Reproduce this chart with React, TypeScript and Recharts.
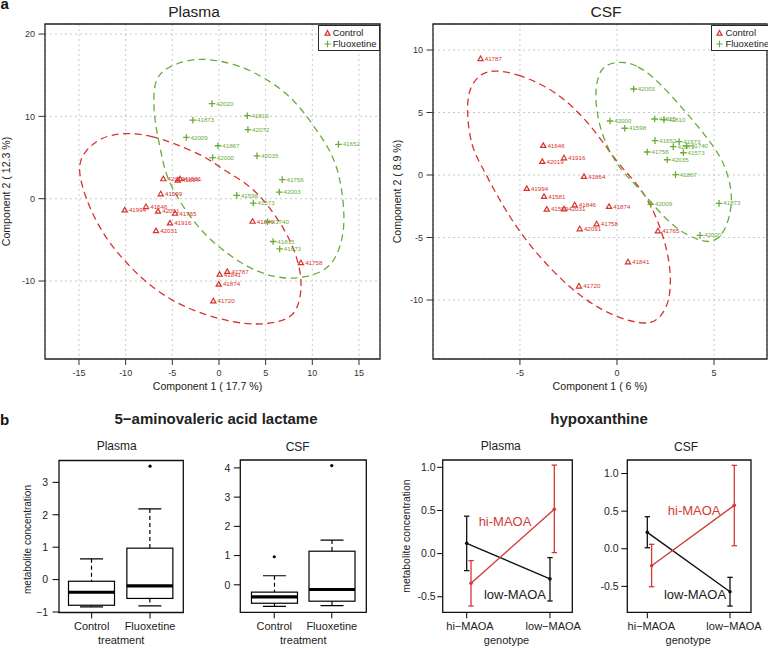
import React from 'react';
import {
  ScatterChart, Scatter, XAxis, YAxis, CartesianGrid, ReferenceArea, Legend,
  ComposedChart, Bar, LineChart, Line, ErrorBar, ReferenceDot, Label,
} from 'recharts';

const FONT = '"Liberation Sans", Arial, Helvetica, sans-serif';
const RED = '#d6322e';
const GREEN = '#68ad3a';
const LINE_RED = '#d23a36';
const INK = '#222';

type Pt = { id: string; x: number; y: number };
type XY = { x: number; y: number };

// ---------------- panel a : score plots ----------------
const groups = ['Control', 'Fluoxetine'];

const plasmaControl: Pt[] = [
  { id: '42019', x: -5.96, y: 2.4 }, { id: '41864', x: -4.42, y: 2.23 }, { id: '41581', x: -4.18, y: 2.4 },
  { id: '41599', x: -6.24, y: 0.57 }, { id: '41994', x: -10.1, y: -1.38 }, { id: '41646', x: -7.82, y: -0.98 },
  { id: '42091', x: -6.53, y: -1.54 }, { id: '41765', x: -4.71, y: -1.79 }, { id: '41916', x: -5.25, y: -2.97 },
  { id: '42031', x: -6.75, y: -3.9 }, { id: '41846', x: 3.6, y: -2.76 }, { id: '41758', x: 8.78, y: -7.8 },
  { id: '41787', x: 0.89, y: -8.86 }, { id: '41841', x: 0.07, y: -9.2 }, { id: '41874', x: -0.03, y: -10.4 },
  { id: '41720', x: -0.61, y: -12.44 },
];
const plasmaFluox: Pt[] = [
  { id: '42020', x: -0.75, y: 11.55 }, { id: '41873', x: -2.8, y: 9.55 }, { id: '41810', x: 3.03, y: 10.08 },
  { id: '42072', x: 3.1, y: 8.4 }, { id: '42009', x: -3.5, y: 7.44 }, { id: '41867', x: -0.1, y: 6.43 },
  { id: '42000', x: -0.68, y: 5.0 }, { id: '42035', x: 4.07, y: 5.2 }, { id: '41652', x: 12.8, y: 6.6 },
  { id: '41756', x: 6.78, y: 2.32 }, { id: '42003', x: 6.46, y: 0.81 }, { id: '41598', x: 1.9, y: 0.4 },
  { id: '41573', x: 3.67, y: -0.53 }, { id: '41740', x: 5.2, y: -2.8 }, { id: '41815', x: 5.8, y: -5.2 },
  { id: '41673', x: 6.5, y: -6.1 },
];
const plasmaControlEllipse: XY[] = [
  { x: -10.07, y: 8.07 }, { x: -7.07, y: 7.62 }, { x: -4.93, y: 6.77 }, { x: -1.29, y: 5.06 }, { x: 0.43, y: 3.49 },
  { x: 3.0, y: 1.91 }, { x: 5.14, y: -0.52 }, { x: 7.29, y: -4.17 }, { x: 8.36, y: -7.04 }, { x: 8.89, y: -9.87 },
  { x: 8.7, y: -12.4 }, { x: 7.96, y: -14.33 }, { x: 6.18, y: -15.06 }, { x: 4.2, y: -15.3 }, { x: 1.53, y: -15.06 },
  { x: -2.04, y: -13.92 }, { x: -4.9, y: -12.51 }, { x: -7.75, y: -10.28 }, { x: -9.89, y: -7.85 }, { x: -12.03, y: -5.02 },
  { x: -13.82, y: -1.37 }, { x: -14.89, y: 2.27 }, { x: -15.0, y: 4.09 }, { x: -14.57, y: 5.55 }, { x: -12.75, y: 7.49 },
];
const plasmaFluoxEllipse: XY[] = [
  { x: -1.29, y: 16.97 }, { x: 1.5, y: 16.48 }, { x: 4.39, y: 15.03 }, { x: 6.86, y: 13.2 }, { x: 8.68, y: 11.14 },
  { x: 10.47, y: 8.34 }, { x: 11.89, y: 5.91 }, { x: 12.61, y: 3.89 }, { x: 13.15, y: 1.46 }, { x: 13.5, y: -2.59 },
  { x: 13.15, y: -5.42 }, { x: 12.25, y: -7.85 }, { x: 10.82, y: -9.06 }, { x: 8.68, y: -9.67 }, { x: 6.89, y: -9.67 },
  { x: 5.11, y: -9.27 }, { x: 2.97, y: -8.26 }, { x: 0.83, y: -6.63 }, { x: -1.32, y: -4.62 }, { x: -3.11, y: -2.19 },
  { x: -4.53, y: 0.24 }, { x: -5.79, y: 3.09 }, { x: -6.32, y: 6.32 }, { x: -6.86, y: 9.16 }, { x: -7.04, y: 11.99 },
  { x: -6.86, y: 14.42 }, { x: -5.97, y: 15.63 }, { x: -4.53, y: 16.45 }, { x: -2.75, y: 16.93 },
];

const csfControl: Pt[] = [
  { id: '41787', x: -7.03, y: 9.3 }, { id: '41646', x: -3.8, y: 2.35 }, { id: '42019', x: -3.85, y: 1.07 },
  { id: '41916', x: -2.73, y: 1.36 }, { id: '41864', x: -1.7, y: -0.13 }, { id: '41994', x: -4.65, y: -1.09 },
  { id: '41581', x: -3.76, y: -1.73 }, { id: '41599', x: -3.62, y: -2.75 }, { id: '42031', x: -2.73, y: -2.72 },
  { id: '41846', x: -2.18, y: -2.4 }, { id: '41874', x: -0.41, y: -2.53 }, { id: '41758', x: -1.05, y: -3.92 },
  { id: '42091', x: -1.92, y: -4.32 }, { id: '41765', x: 2.11, y: -4.48 }, { id: '41841', x: 0.57, y: -6.96 },
  { id: '41720', x: -1.96, y: -8.9 },
];
const csfFluox: Pt[] = [
  { id: '42003', x: 0.86, y: 6.88 }, { id: '42000', x: -0.36, y: 4.32 }, { id: '41598', x: 0.4, y: 3.74 },
  { id: '41815', x: 1.94, y: 4.48 }, { id: '41810', x: 2.42, y: 4.43 }, { id: '41652', x: 1.96, y: 2.75 },
  { id: '41673', x: 3.2, y: 2.67 }, { id: '42072', x: 2.9, y: 2.27 }, { id: '41740', x: 3.59, y: 2.32 },
  { id: '41756', x: 1.56, y: 1.84 }, { id: '41573', x: 3.42, y: 1.78 }, { id: '42035', x: 2.59, y: 1.22 },
  { id: '41867', x: 3.02, y: 0.03 }, { id: '42009', x: 1.74, y: -2.35 }, { id: '41873', x: 5.26, y: -2.27 },
  { id: '42020', x: 4.28, y: -4.83 },
];
const csfControlEllipse: XY[] = [
  { x: -6.25, y: 8.4 }, { x: -5.14, y: 8.08 }, { x: -3.76, y: 7.2 }, { x: -2.39, y: 5.74 }, { x: -1.02, y: 3.34 },
  { x: 0.02, y: 0.94 }, { x: 0.88, y: -0.4 }, { x: 1.74, y: -2.26 }, { x: 2.42, y: -4.94 }, { x: 2.8, y: -7.6 },
  { x: 2.73, y: -10.26 }, { x: 2.08, y: -11.74 }, { x: 1.39, y: -11.94 }, { x: 0.02, y: -11.46 }, { x: -1.7, y: -10.0 },
  { x: -3.42, y: -7.6 }, { x: -5.14, y: -4.4 }, { x: -6.34, y: -1.2 }, { x: -6.86, y: 0.4 }, { x: -7.54, y: 2.26 },
  { x: -7.75, y: 5.2 }, { x: -7.63, y: 6.94 }, { x: -7.03, y: 8.18 },
];
const csfFluoxEllipse: XY[] = [
  { x: 0.19, y: 9.12 }, { x: 1.05, y: 8.8 }, { x: 2.08, y: 7.6 }, { x: 3.45, y: 5.2 }, { x: 4.48, y: 3.34 },
  { x: 5.35, y: 1.46 }, { x: 5.69, y: 0.14 }, { x: 5.94, y: -1.46 }, { x: 5.86, y: -3.06 }, { x: 5.52, y: -4.66 },
  { x: 4.91, y: -5.46 }, { x: 4.14, y: -5.2 }, { x: 3.11, y: -4.4 }, { x: 2.08, y: -2.8 }, { x: 1.22, y: -1.2 },
  { x: 0.36, y: 0.14 }, { x: -0.15, y: 1.2 }, { x: -0.84, y: 3.34 }, { x: -1.15, y: 6.0 }, { x: -1.02, y: 7.86 },
  { x: -0.67, y: 8.8 },
];

const plasmaXTicks = [-15, -10, -5, 0, 5, 10, 15];
const plasmaYTicks = [-10, 0, 10, 20];
const csfXTicks = [-5, 0, 5];
const csfYTicks = [-10, -5, 0, 5, 10];

// ---------------- panel b : 5-aminovaleric acid lactame ----------------
const treatments = ['Control', 'Fluoxetine'];
type BoxStat = { wLow: number; q1: number; med: number; q3: number; wHigh: number; outlier: number | null };
const plasmaBox: BoxStat[] = [
  { wLow: -0.84, q1: -0.79, med: -0.39, q3: -0.05, wHigh: 0.64, outlier: null },
  { wLow: -0.81, q1: -0.58, med: -0.19, q3: 0.97, wHigh: 2.18, outlier: 3.5 },
];
const csfBox: BoxStat[] = [
  { wLow: -0.74, q1: -0.63, med: -0.41, q3: -0.25, wHigh: 0.31, outlier: 0.96 },
  { wLow: -0.71, q1: -0.56, med: -0.16, q3: 1.15, wHigh: 1.53, outlier: 4.08 },
];
const plasmaBoxTicks = [-1, 0, 1, 2, 3];
const csfBoxTicks = [0, 1, 2, 3, 4];

// ---------------- panel b : hypoxanthine ----------------
const genotypes = ['hi\u2212MAOA', 'low\u2212MAOA'];
const plasmaLowMean = [0.12, -0.293];
const plasmaLowLo = [-0.197, -0.549];
const plasmaLowHi = [0.434, -0.046];
const plasmaHiMean = [-0.343, 0.515];
const plasmaHiLo = [-0.607, 0.012];
const plasmaHiHi = [-0.081, 1.026];
const csfLowMean = [0.218, -0.572];
const csfLowLo = [0.013, -0.762];
const csfLowHi = [0.426, -0.38];
const csfHiMean = [-0.226, 0.577];
const csfHiLo = [-0.505, 0.04];
const csfHiHi = [0.059, 1.109];
const hypoTicks = [-0.5, 0, 0.5, 1];
const DODGE = 0.052;

const buildLine = (mean: number[], lo: number[], hi: number[], shift: number) =>
  genotypes.map((g, i) => ({ x: i + 1 + shift, y: mean[i], err: [mean[i] - lo[i], hi[i] - mean[i]] }));

// ---------------- helpers ----------------
const pointShape = (color: string, kind: 'tri' | 'plus') => (props: any) => {
  const { cx, cy, payload } = props;
  if (!Number.isFinite(cx) || !Number.isFinite(cy)) return <g />;
  const mark = kind === 'tri'
    ? <path d={`M${cx},${cy - 2.7}L${cx + 2.6},${cy + 1.8}L${cx - 2.6},${cy + 1.8}Z`} fill="none" stroke={color} strokeWidth={1.2} />
    : <path d={`M${cx - 3.3},${cy}H${cx + 3.3}M${cx},${cy - 3.3}V${cy + 3.3}`} fill="none" stroke={color} strokeWidth={1.3} />;
  return (
    <g>
      {mark}
      <text x={cx + 4.2} y={cy + 2.1} fontSize={6.2} fill={color}>{payload.id}</text>
    </g>
  );
};

const noShape = () => <g />;

const xTitle = (text: string, dx: number, baseline: number, size: number) => (p: any) => {
  const vb = p.viewBox || { x: 0, y: 0, width: 0, height: 0 };
  return (
    <text x={vb.x + vb.width / 2 + dx} y={vb.y + baseline} textAnchor="middle" fontSize={size} fill={INK}>{text}</text>
  );
};

const yTitle = (text: string, baseX: number, dy: number, size: number) => (p: any) => {
  const vb = p.viewBox || { x: 0, y: 0, width: 0, height: 0 };
  const cx = vb.x + baseX;
  const cy = vb.y + vb.height / 2 + dy;
  return (
    <text x={cx} y={cy} transform={`rotate(-90 ${cx} ${cy})`} textAnchor="middle" fontSize={size} fill={INK}>{text}</text>
  );
};

const LegendBox = () => (
  <div style={{
    border: '1.3px solid #2a2a2a', background: '#fff', padding: '2px 2px 1px 4.7px', fontSize: 9.5,
    lineHeight: '10.6px', color: INK, whiteSpace: 'nowrap', fontFamily: FONT, boxSizing: 'content-box',
  }}>
    {groups.map((g, i) => (
      <div key={g} style={{ display: 'flex', alignItems: 'center', height: 10.6 }}>
        <svg width={7} height={8} style={{ marginRight: 2, display: 'block' }}>
          {i === 0
            ? <path d="M3.5,1.6L6,6.2L1,6.2Z" fill="none" stroke={RED} strokeWidth={1.2} />
            : <path d="M0.3,4H6.7M3.5,0.8V7.2" fill="none" stroke={GREEN} strokeWidth={1.2} />}
        </svg>
        <span>{g}</span>
      </div>
    ))}
  </div>
);

type ScatterPanelProps = {
  left: number; marginRight: number; yAxisWidth: number;
  xDomain: [number, number]; yDomain: [number, number]; xTicks: number[]; yTicks: number[];
  control: Pt[]; fluox: Pt[]; ctrlEllipse: XY[]; fluoxEllipse: XY[];
  xLabel: string; yLabel: string; xLabelDx: number; yLabelX: number; legendLeft: number;
};

function ScatterPanel(p: ScatterPanelProps) {
  const dash = { strokeWidth: 1.3, strokeDasharray: '7 4.5', fill: 'none' };
  return (
    <div style={{ position: 'absolute', left: p.left, top: 0 }}>
      <ScatterChart width={384} height={400} margin={{ top: 24, right: p.marginRight, bottom: 0, left: 0 }}>
        <CartesianGrid stroke="#c8c8c8" strokeDasharray="2 3" />
        <XAxis type="number" dataKey="x" domain={p.xDomain} ticks={p.xTicks} allowDataOverflow interval={0}
          height={41} axisLine={false} tickSize={6} tickMargin={5} tickLine={{ stroke: '#333' }}
          tick={{ fontSize: 9, fill: '#333' }}>
          <Label content={xTitle(p.xLabel, p.xLabelDx, 31, 10.6)} />
        </XAxis>
        <YAxis type="number" dataKey="y" domain={p.yDomain} ticks={p.yTicks} allowDataOverflow interval={0}
          width={p.yAxisWidth} axisLine={false} tickSize={6.5} tickMargin={3.5} tickLine={{ stroke: '#333' }}
          tick={{ fontSize: 9, fill: '#333' }}>
          <Label content={yTitle(p.yLabel, p.yLabelX, 0, 10.6)} />
        </YAxis>
        <ReferenceArea x1={p.xDomain[0]} x2={p.xDomain[1]} y1={p.yDomain[0]} y2={p.yDomain[1]}
          fill="none" fillOpacity={0} stroke="#222" strokeWidth={1.3} ifOverflow="visible" />
        <Scatter name="ctrl-ellipse" data={p.ctrlEllipse} fill="none" stroke={RED} shape={noShape}
          line={{ ...dash, stroke: RED }} lineJointType="basisClosed" legendType="none" isAnimationActive={false} />
        <Scatter name="fluox-ellipse" data={p.fluoxEllipse} fill="none" stroke={GREEN} shape={noShape}
          line={{ ...dash, stroke: GREEN }} lineJointType="basisClosed" legendType="none" isAnimationActive={false} />
        <Scatter name={groups[0]} data={p.control} fill="none" stroke={RED} shape={pointShape(RED, 'tri')} isAnimationActive={false} />
        <Scatter name={groups[1]} data={p.fluox} fill="none" stroke={GREEN} shape={pointShape(GREEN, 'plus')} isAnimationActive={false} />
        <Legend layout="vertical" align="center" verticalAlign="middle"
          wrapperStyle={{ left: p.legendLeft, top: 25, width: 'auto', height: 'auto' }} content={() => <LegendBox />} />
      </ScatterChart>
    </div>
  );
}

const boxShape = (props: any) => {
  const { x, y, width, height, payload } = props;
  if (!Number.isFinite(x) || !Number.isFinite(y)) return <g />;
  const top = Math.min(y, y + height);
  const bot = Math.max(y, y + height);
  const { wLow, q1, med, q3, wHigh } = payload;
  const k = (bot - top) / (wHigh - wLow);
  const py = (v: number) => bot - (v - wLow) * k;
  const cx = x + width / 2;
  const cap = width / 4;
  return (
    <g>
      <line x1={cx} x2={cx} y1={py(wHigh)} y2={py(q3)} stroke="#000" strokeWidth={1.2} strokeDasharray="4 3" />
      <line x1={cx} x2={cx} y1={py(q1)} y2={py(wLow)} stroke="#000" strokeWidth={1.2} strokeDasharray="4 3" />
      <line x1={cx - cap} x2={cx + cap} y1={py(wHigh)} y2={py(wHigh)} stroke="#000" strokeWidth={1.2} />
      <line x1={cx - cap} x2={cx + cap} y1={py(wLow)} y2={py(wLow)} stroke="#000" strokeWidth={1.2} />
      <rect x={x} y={py(q3)} width={width} height={py(q1) - py(q3)} fill="#fff" stroke="#000" strokeWidth={1.2} />
      <line x1={x} x2={x + width} y1={py(med)} y2={py(med)} stroke="#000" strokeWidth={3.2} />
    </g>
  );
};

const outlierShape = (props: any) => {
  const { cx, cy, payload } = props;
  if (payload == null || payload.outlier == null || !Number.isFinite(cy)) return <g />;
  return <circle cx={cx} cy={cy} r={1.6} fill="#000" />;
};

const fmtMinus = (v: number) => (v < 0 ? `\u2212${Math.abs(v)}` : `${v}`);

type BoxPanelProps = {
  left: number; top: number; marginRight: number; yAxisWidth: number; xAxisHeight: number;
  xDomain: [number, number]; yDomain: [number, number]; yTicks: number[]; stats: BoxStat[];
  yLabel?: string; tickMarginY: number;
};

function BoxPanel(p: BoxPanelProps) {
  const table = treatments.map((t, i) => ({ treatment: t, pos: i + 1, ...p.stats[i] }));
  return (
    <div style={{ position: 'absolute', left: p.left, top: 430 }}>
      <ComposedChart width={190} height={219} data={table}
        margin={{ top: p.top, right: p.marginRight, bottom: 0, left: 0 }}>
        <XAxis type="number" dataKey="pos" domain={p.xDomain} ticks={[1, 2]} allowDataOverflow interval={0}
          height={p.xAxisHeight} axisLine={false} tickSize={6} tickMargin={3.7} tickLine={{ stroke: '#000' }}
          tick={{ fontSize: 11, fill: INK }} tickFormatter={(v: number) => treatments[Math.round(v) - 1] ?? ''}>
          <Label content={xTitle('treatment', 0, 31.7, 11)} />
        </XAxis>
        <YAxis type="number" domain={p.yDomain} ticks={p.yTicks} allowDataOverflow interval={0}
          width={p.yAxisWidth} axisLine={false} tickSize={6.5} tickMargin={p.tickMarginY} tickLine={{ stroke: '#000' }}
          tick={{ fontSize: 10.5, fill: INK }} tickFormatter={fmtMinus}>
          {p.yLabel ? <Label content={yTitle(p.yLabel, 31.2, 3, 10)} /> : null}
        </YAxis>
        <ReferenceArea x1={p.xDomain[0]} x2={p.xDomain[1]} y1={p.yDomain[0]} y2={p.yDomain[1]}
          fill="none" fillOpacity={0} stroke="#111" strokeWidth={1.3} ifOverflow="visible" />
        <Bar dataKey={(d: any) => [d.wLow, d.wHigh]} barSize={46} shape={boxShape} isAnimationActive={false} />
        <Scatter dataKey="outlier" shape={outlierShape} isAnimationActive={false} />
      </ComposedChart>
    </div>
  );
}

type Anno = { text: string; x: number; y: number; color: string };

type LinePanelProps = {
  left: number; width: number; marginRight: number; yAxisWidth: number;
  xDomain: [number, number]; yDomain: [number, number];
  low: { x: number; y: number; err: number[] }[]; hi: { x: number; y: number; err: number[] }[];
  annos: Anno[]; yLabel?: string; tickSizeY: number; tickMarginY: number; tickDx: number;
};

function LinePanel(p: LinePanelProps) {
  return (
    <div style={{ position: 'absolute', left: p.left, top: 430 }}>
      <LineChart width={p.width} height={219} margin={{ top: 30, right: p.marginRight, bottom: 0, left: 0 }}>
        <XAxis type="number" dataKey="x" domain={p.xDomain} ticks={[1, 2]} allowDataOverflow interval={0}
          height={36.7} axisLine={false} tickSize={6} tickMargin={3.7} tickLine={{ stroke: '#000' }}
          tick={{ fontSize: 11, fill: INK, dx: p.tickDx }} tickFormatter={(v: number) => genotypes[Math.round(v) - 1] ?? ''}>
          <Label content={xTitle('genotype', -1, 31.7, 11)} />
        </XAxis>
        <YAxis type="number" domain={p.yDomain} ticks={hypoTicks} allowDataOverflow interval={0}
          width={p.yAxisWidth} axisLine={false} tickSize={p.tickSizeY} tickMargin={p.tickMarginY} tickLine={{ stroke: '#000' }}
          tick={{ fontSize: 10.5, fill: INK }} tickFormatter={(v: number) => v.toFixed(1)}>
          {p.yLabel ? <Label content={yTitle(p.yLabel, 26.2, 0, 10.4)} /> : null}
        </YAxis>
        <ReferenceArea x1={p.xDomain[0]} x2={p.xDomain[1]} y1={p.yDomain[0]} y2={p.yDomain[1]}
          fill="none" fillOpacity={0} stroke="#111" strokeWidth={1.3} ifOverflow="visible" />
        <Line data={p.low} dataKey="y" stroke="#111" strokeWidth={1.4} isAnimationActive={false}
          dot={{ r: 1.8, fill: '#111', stroke: '#111', strokeWidth: 0 }} activeDot={false}>
          <ErrorBar dataKey="err" direction="y" width={2.7} stroke="#111" strokeWidth={1.3} />
        </Line>
        <Line data={p.hi} dataKey="y" stroke={LINE_RED} strokeWidth={1.4} isAnimationActive={false}
          dot={{ r: 1.8, fill: LINE_RED, stroke: LINE_RED, strokeWidth: 0 }} activeDot={false}>
          <ErrorBar dataKey="err" direction="y" width={2.7} stroke={LINE_RED} strokeWidth={1.3} />
        </Line>
        {p.annos.map((a) => (
          <ReferenceDot key={a.text} x={a.x} y={a.y} r={0} fill="none" stroke="none" ifOverflow="visible"
            label={{ value: a.text, position: 'center', fill: a.color, fontSize: 13 }} />
        ))}
      </LineChart>
    </div>
  );
}

const Title = ({ text, cx, top, size, bold }: { text: string; cx: number; top: number; size: number; bold?: boolean }) => (
  <div style={{
    position: 'absolute', left: cx - 150, width: 300, top, textAlign: 'center', fontSize: size,
    lineHeight: `${size}px`, fontWeight: bold ? 700 : 400, color: INK, whiteSpace: 'nowrap',
  }}>{text}</div>
);

export default function App() {
  return (
    <div style={{
      position: 'absolute', left: 0, top: 0, width: 768, height: 649, overflow: 'hidden',
      background: '#fff', fontFamily: FONT,
    }}>
      <div style={{ position: 'absolute', left: 0.5, top: -1.4, fontSize: 15, lineHeight: '9px', fontWeight: 700, color: '#111' }}>a</div>
      <div style={{ position: 'absolute', left: 0, top: 412.3, fontSize: 15, lineHeight: '15px', fontWeight: 700, color: '#111' }}>b</div>

      <ScatterPanel left={0} marginRight={4} yAxisWidth={45}
        xDomain={[-18.64, 17.25]} yDomain={[-19.47, 21.22]} xTicks={plasmaXTicks} yTicks={plasmaYTicks}
        control={plasmaControl} fluox={plasmaFluox} ctrlEllipse={plasmaControlEllipse} fluoxEllipse={plasmaFluoxEllipse}
        xLabel="Component 1 ( 17.7 %)" yLabel="Component 2 ( 12.3 %)" xLabelDx={-5} yLabelX={9.5} legendLeft={318} />
      <ScatterPanel left={384} marginRight={1} yAxisWidth={49}
        xDomain={[-9.48, 7.73]} yDomain={[-14.72, 12.08]} xTicks={csfXTicks} yTicks={csfYTicks}
        control={csfControl} fluox={csfFluox} ctrlEllipse={csfControlEllipse} fluoxEllipse={csfFluoxEllipse}
        xLabel="Component 1 ( 6 %)" yLabel="Component 2 ( 8.9 %)" xLabelDx={0} yLabelX={16.8} legendLeft={326.7} />

      <Title text="Plasma" cx={194} top={4.1} size={15.5} />
      <Title text="CSF" cx={606} top={4.1} size={15.5} />

      <Title text={'5\u2212aminovaleric acid lactame'} cx={216} top={411.3} size={15} bold />
      <Title text="hypoxanthine" cx={599} top={411.3} size={15} bold />

      <BoxPanel left={0} top={30.5} marginRight={6.7} yAxisWidth={59} xAxisHeight={36.5}
        xDomain={[0.44, 2.57]} yDomain={[-1.014, 3.674]} yTicks={plasmaBoxTicks} stats={plasmaBox}
        yLabel="metabolite concentration" tickMarginY={4.5} />
      <BoxPanel left={190} top={30} marginRight={13.7} yAxisWidth={50.3} xAxisHeight={36.7}
        xDomain={[0.41, 2.6]} yDomain={[-0.94, 4.27]} yTicks={csfBoxTicks} stats={csfBox} tickMarginY={3.5} />

      <LinePanel left={384} width={206} marginRight={17.7} yAxisWidth={58.7} xDomain={[0.712, 2.268]} yDomain={[-0.68, 1.085]}
        low={buildLine(plasmaLowMean, plasmaLowLo, plasmaLowHi, 0)} hi={buildLine(plasmaHiMean, plasmaHiLo, plasmaHiHi, DODGE)}
        annos={[
          { text: 'hi-MAOA', x: 1.46, y: 0.379, color: LINE_RED },
          { text: 'low-MAOA', x: 1.58, y: -0.47, color: INK },
        ]}
        yLabel="metabolite concentration" tickSizeY={5.5} tickMarginY={1.5} tickDx={3.3} />
      <LinePanel left={576} width={192} marginRight={17} yAxisWidth={51.3} xDomain={[0.758, 2.254]} yDomain={[-0.845, 1.18]}
        low={buildLine(csfLowMean, csfLowLo, csfLowHi, 0)} hi={buildLine(csfHiMean, csfHiLo, csfHiHi, DODGE)}
        annos={[
          { text: 'hi-MAOA', x: 1.567, y: 0.508, color: LINE_RED },
          { text: 'low-MAOA', x: 1.577, y: -0.609, color: INK },
        ]}
        tickSizeY={6} tickMarginY={2.7} tickDx={4} />

      <Title text="Plasma" cx={116.7} top={440.1} size={12} />
      <Title text="CSF" cx={297.7} top={440.5} size={12} />
      <Title text="Plasma" cx={500.8} top={440.1} size={12} />
      <Title text="CSF" cx={686} top={440.5} size={12} />
    </div>
  );
}
